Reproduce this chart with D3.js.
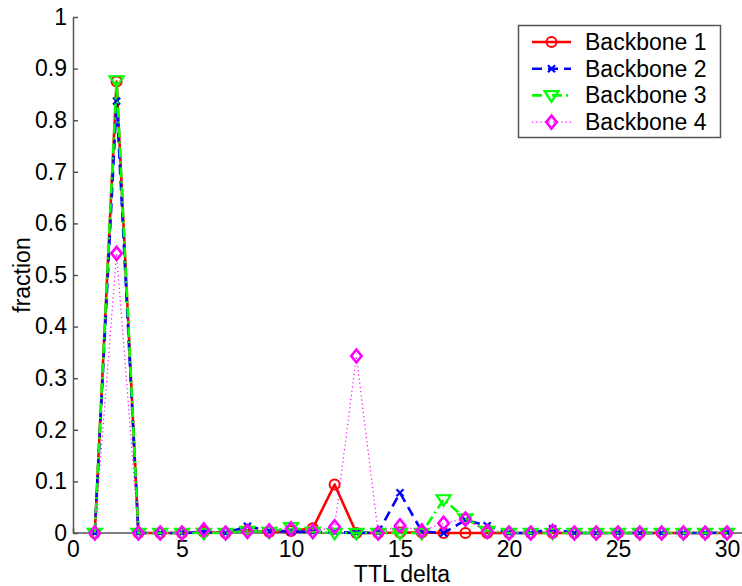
<!DOCTYPE html>
<html>
<head>
<meta charset="utf-8">
<script src="https://cdn.jsdelivr.net/npm/d3@7"></script>
<style>
  body { margin: 0; background: #fff; }
  text { font-family: "Liberation Sans", Arial, sans-serif; }
</style>
</head>
<body>
<div id="chart"></div>
<script>
// TTL delta values
const ttl = [1, 2, 3, 4, 5, 6, 7, 8, 9, 10, 11, 12, 13, 14, 15, 16, 17, 18, 19, 20, 21, 22, 23, 24, 25, 26, 27, 28, 29, 30];

const backbone1 = [0, 0.875, 0, 0, 0, 0.002, 0, 0.005, 0.002, 0.004, 0.009, 0.094, 0, 0, 0.001, 0.001, 0, 0, 0, 0, 0, 0, 0, 0, 0, 0, 0, 0, 0, 0];
const backbone2 = [0, 0.837, 0, 0, 0, 0.002, 0, 0.013, 0.004, 0.003, 0.002, 0.002, 0, 0.001, 0.078, 0.003, 0, 0.025, 0.014, 0, 0, 0.008, 0, 0, 0, 0, 0, 0, 0, 0.001];
const backbone3 = [0, 0.877, 0, 0, 0, 0, 0, 0.004, 0.002, 0.011, 0.002, 0, 0, 0, 0, 0, 0.065, 0.028, 0.004, 0, 0, 0, 0, 0, 0, 0, 0, 0, 0, 0];
const backbone4 = [0, 0.542, 0, 0, 0, 0.006, 0, 0.003, 0.004, 0.008, 0.003, 0.012, 0.343, 0, 0.014, 0.004, 0.019, 0.027, 0.003, 0, 0, 0.003, 0, 0, 0, 0, 0, 0, 0, 0];

const seriesNames = ["Backbone 1", "Backbone 2", "Backbone 3", "Backbone 4"];
const xTicks = [0, 5, 10, 15, 20, 25, 30];
const yTicks = [0, 0.1, 0.2, 0.3, 0.4, 0.5, 0.6, 0.7, 0.8, 0.9, 1];

const width = 742, height = 586;
const marginLeft = 73, marginTop = 17, marginBottom = 53;
const plotRight = 727; // x = 30
const fontSize = 23;

const styles = [
    {color: "#ff0000", dash: null, width: 2.6, marker: "circle"},
    {color: "#0000ff", dash: "10,6", width: 2.6, marker: "x"},
    {color: "#00ff00", dash: "10,4,2,4", width: 2.6, marker: "tri"},
    {color: "#ff00ff", dash: "1.2,3", width: 1.2, marker: "diamond"},
];

const datas = [backbone1, backbone2, backbone3, backbone4];

const x = d3.scaleLinear([0, 30], [marginLeft, plotRight]);
const y = d3.scaleLinear([0, 1], [height - marginBottom, marginTop]);

const svg = d3.select("#chart").append("svg")
    .attr("width", width)
    .attr("height", height)
    .attr("viewBox", [0, 0, width, height]);

// axes
svg.append("g")
    .attr("transform", `translate(0,${y(0)})`)
    .call(d3.axisBottom(x).tickValues(xTicks).tickSizeInner(-5).tickSizeOuter(0).tickPadding(8).tickFormat(d3.format("d")))
    .call(g => g.select(".domain").attr("d", `M${marginLeft},0H${width}`))
    .call(g => g.selectAll("line, path").attr("stroke", "#555").attr("stroke-width", 1.5))
    .call(g => g.selectAll("text").attr("font-size", fontSize).attr("fill", "#000").attr("font-family", "Liberation Sans, Arial, sans-serif"));

svg.append("g")
    .attr("transform", `translate(${marginLeft},0)`)
    .call(d3.axisLeft(y).tickValues(yTicks).tickSizeInner(-5).tickSizeOuter(0).tickPadding(6).tickFormat(d => d3.format("~g")(d)))
    .call(g => g.selectAll("line, path").attr("stroke", "#555").attr("stroke-width", 1.5))
    .call(g => g.selectAll("text").attr("font-size", fontSize).attr("fill", "#000").attr("font-family", "Liberation Sans, Arial, sans-serif"));

// axis labels
svg.append("text")
    .attr("x", x(15) + 2)
    .attr("y", 582)
    .attr("text-anchor", "middle")
    .attr("font-size", fontSize)
    .text("TTL delta");

svg.append("text")
    .attr("transform", `translate(30,${y(0.5)}) rotate(-90)`)
    .attr("text-anchor", "middle")
    .attr("font-size", fontSize)
    .text("fraction");

function drawMarker(g, type, color, cx, cy) {
    if (type === "circle") {
        g.append("circle").attr("cx", cx).attr("cy", cy).attr("r", 5)
            .attr("fill", "none").attr("stroke", color).attr("stroke-width", 2);
    } else if (type === "x") {
        const s = 3.5;
        g.append("path")
            .attr("d", `M${cx - s},${cy - s}L${cx + s},${cy + s}M${cx - s},${cy + s}L${cx + s},${cy - s}`)
            .attr("stroke", color).attr("stroke-width", 2.2).attr("fill", "none");
    } else if (type === "tri") {
        const s = 7;
        g.append("path")
            .attr("d", `M${cx - s},${cy - s * 0.6}L${cx + s},${cy - s * 0.6}L${cx},${cy + s * 0.9}Z`)
            .attr("stroke", color).attr("stroke-width", 2.2).attr("fill", "none");
    } else if (type === "diamond") {
        const s = 6.5;
        g.append("path")
            .attr("d", `M${cx},${cy - s}L${cx + s * 0.8},${cy}L${cx},${cy + s}L${cx - s * 0.8},${cy}Z`)
            .attr("stroke", color).attr("stroke-width", 2.6).attr("fill", "none");
    }
}

const line = d3.line().x(d => x(d[0])).y(d => y(d[1]));

datas.forEach((vals, k) => {
    const st = styles[k];
    const pts = ttl.map((t, i) => [t, vals[i]]);
    const g = svg.append("g");
    g.append("path")
        .datum(pts)
        .attr("d", line)
        .attr("fill", "none")
        .attr("stroke", st.color)
        .attr("stroke-width", st.width)
        .attr("stroke-dasharray", st.dash)
        .attr("stroke-linejoin", "round");
    pts.forEach(p => drawMarker(g, st.marker, st.color, x(p[0]), y(p[1])));
});

// legend
const lg = svg.append("g");
lg.append("rect")
    .attr("x", 518.5).attr("y", 25.5)
    .attr("width", 202).attr("height", 112)
    .attr("fill", "#fff").attr("stroke", "#555").attr("stroke-width", 1.5);

seriesNames.forEach((name, k) => {
    const st = styles[k];
    const cy = 42 + k * 26.7;
    lg.append("line")
        .attr("x1", 532).attr("x2", 571).attr("y1", cy).attr("y2", cy)
        .attr("stroke", st.color).attr("stroke-width", st.width)
        .attr("stroke-dasharray", st.dash);
    drawMarker(lg, st.marker, st.color, 551.5, cy);
    lg.append("text")
        .attr("x", 585).attr("y", cy + 8)
        .attr("font-size", fontSize)
        .text(name);
});
</script>
</body>
</html>
